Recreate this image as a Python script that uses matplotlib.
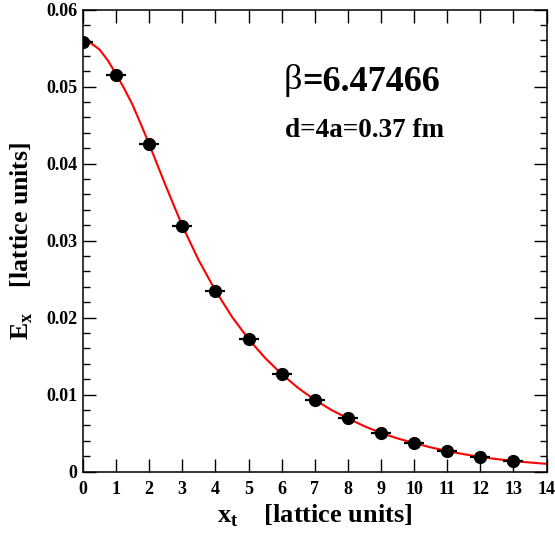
import matplotlib
matplotlib.use("Agg")
import matplotlib.pyplot as plt
from matplotlib.ticker import MultipleLocator

# measured points (x_t, E_x)
x_t = [0, 1, 2, 3, 4, 5, 6, 7, 8, 9, 10, 11, 12, 13]
e_x = [0.0558, 0.0515, 0.0425, 0.0319, 0.0235, 0.0172, 0.01266,
       0.00935, 0.00691, 0.00504, 0.00366, 0.00266, 0.00192, 0.00136]

# fit curve (finer near the flat top)
fit_x = [0, 0.25, 0.5, 0.75, 1, 1.25, 1.5, 1.75, 2, 2.5, 3, 3.5, 4, 4.5, 5,
         5.5, 6, 6.5, 7, 7.5, 8, 8.5, 9, 9.5, 10, 10.5, 11, 11.5, 12, 12.5,
         13, 13.5, 14]
fit_e = [0.0559, 0.0556, 0.0548, 0.0534, 0.0516, 0.0497, 0.0476, 0.0451,
         0.0425, 0.0371, 0.0319, 0.0274, 0.0235, 0.0201, 0.0172, 0.01475,
         0.01266, 0.01085, 0.0093, 0.0080, 0.0069, 0.00588, 0.0050, 0.00430,
         0.0037, 0.00314, 0.00266, 0.00225, 0.0019, 0.00161, 0.00136,
         0.00117, 0.0010]

beta_label = "6.47466"
dist_label = "d=4a=0.37 fm"

plt.rcParams["font.family"] = ["Liberation Serif", "DejaVu Serif"]
plt.rcParams["font.weight"] = "bold"
plt.rcParams["mathtext.fontset"] = "custom"
plt.rcParams["mathtext.rm"] = "Liberation Serif:bold"
plt.rcParams["mathtext.bf"] = "Liberation Serif:bold"

fig = plt.figure(figsize=(5.55, 5.34), dpi=100)
ax = fig.add_axes([0.1495, 0.117, 0.8352, 0.8652])

ax.plot(fit_x, fit_e, color="#ff0000", lw=1.5, zorder=2)
ax.plot(x_t, e_x, ls="none", marker="_", ms=14.5, mew=1.6, color="black", zorder=3)
ax.plot(x_t, e_x, ls="none", marker="o", ms=8.5, color="black", zorder=4)

ax.set_xlim(0, 14)
ax.set_ylim(0, 0.06)
ax.xaxis.set_major_locator(MultipleLocator(1))
ax.yaxis.set_major_locator(MultipleLocator(0.01))
ax.yaxis.set_minor_locator(MultipleLocator(0.002))
ax.tick_params(which="both", direction="in", top=True, right=True, width=1.0)
ax.tick_params(which="major", length=9.5, labelsize=13, pad=4)
ax.tick_params(axis="x", which="major", pad=7)
ax.tick_params(which="minor", length=5)
ax.set_yticks([0, 0.01, 0.02, 0.03, 0.04, 0.05, 0.06])
ax.set_yticklabels(["0", "0.01", "0.02", "0.03", "0.04", "0.05", "0.06"])
for lab in ax.get_xticklabels() + ax.get_yticklabels():
    lab.set_fontweight("bold")
for sp in ax.spines.values():
    sp.set_linewidth(1.1)

ax.set_xlabel(r"x$_\mathbf{t}$    [lattice units]", fontsize=19,
              fontweight="bold", labelpad=3)
ax.set_ylabel(r"E$_\mathbf{x}$    [lattice units]", fontsize=18.5,
              fontweight="bold", labelpad=8)

ax.text(0.4725, 0.843, "=" + beta_label, transform=ax.transAxes,
        fontsize=26, fontweight="bold", ha="left", va="center")
ax.text(0.4725, 0.846, "β", transform=ax.transAxes,
        fontsize=26, fontweight="normal", ha="right", va="center")
ax.text(0.436, 0.739, dist_label, transform=ax.transAxes,
        fontsize=19.5, fontweight="bold", ha="left", va="center")

fig.savefig("out.png", dpi=100)
